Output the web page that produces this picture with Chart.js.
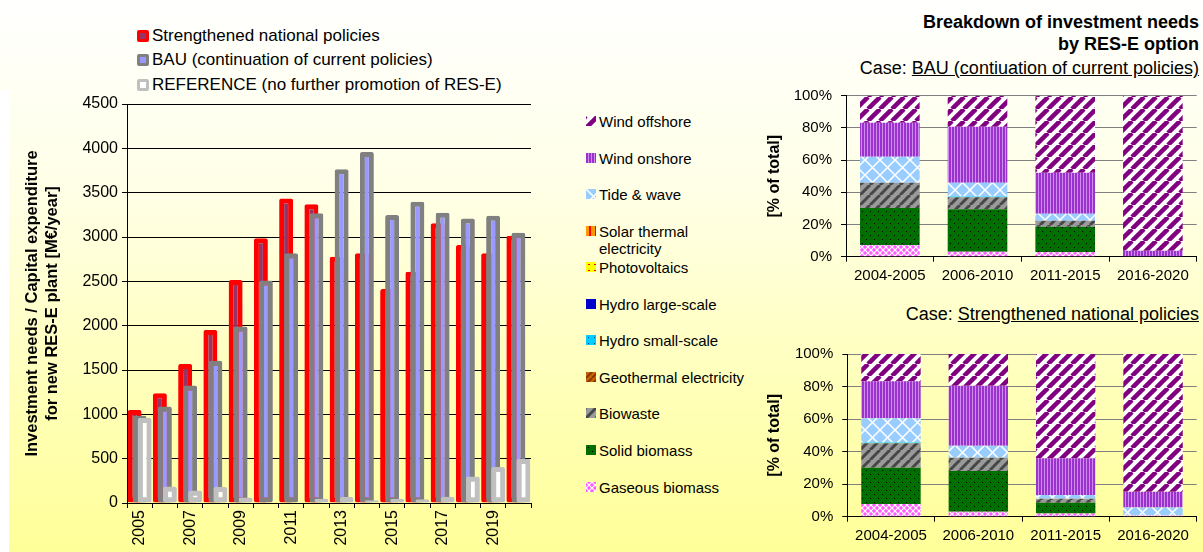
<!DOCTYPE html>
<html>
<head>
<meta charset="utf-8">
<script src="https://cdn.jsdelivr.net/npm/chart.js@4.4.1/dist/chart.umd.min.js"></script>
<style>
  html, body { margin: 0; padding: 0; }
  body {
    width: 1203px; height: 552px; position: relative; overflow: hidden;
    font-family: 'Liberation Sans', Arial, sans-serif; color: #000;
    background: linear-gradient(to bottom, #ffffff 0%, #ffffe6 35%, #ffffb4 75%, #ffff99 100%);
  }
  .abs { position: absolute; }
  .strip { left: 0; top: 90px; width: 9px; height: 462px; background: #fff; }
  .lg1 { left: 137px; font-size: 17px; line-height: 20px; white-space: nowrap; }
  .lg1 i { display: inline-block; width: 6px; height: 6px; border: 3px solid; border-radius: 2px;
           vertical-align: -1px; margin-right: 3px; }
  .lg2 { left: 586px; font-size: 15px; line-height: 17px; }
  .lg2 canvas { position: absolute; left: 0; top: 3px; }
  .lg2 span { position: absolute; left: 13px; top: 0; white-space: nowrap; }
  .ttl { right: 4px; font-size: 18px; line-height: 22px; text-align: right; white-space: nowrap; }
  .b { font-weight: bold; }
</style>
</head>
<body>
<div class="abs strip"></div>
<div id="legendLeft"></div>
<div id="legendMid"></div>
<div class="abs ttl b" style="top:11px">Breakdown of investment needs</div>
<div class="abs ttl b" style="top:33px">by RES-E option</div>
<div class="abs ttl" style="top:57px">Case: <u>BAU (contiuation of current policies)</u></div>
<div class="abs ttl" style="top:303px">Case: <u>Strengthened national policies</u></div>
<canvas id="total" class="abs" width="545" height="457" style="left:0;top:95px"></canvas>
<canvas id="bauShare" class="abs" width="443" height="205" style="left:760px;top:85px"></canvas>
<canvas id="snpShare" class="abs" width="443" height="212" style="left:760px;top:340px"></canvas>
<script>
// ---- data: investment needs [M€/year]
const years = ['2005', '2006', '2007', '2008', '2009', '2010', '2011', '2012',
  '2013', '2014', '2015', '2016', '2017', '2018', '2019', '2020'];
const strengthened = [1050, 1238, 1569, 1952, 2515, 2985, 3435, 3368, 2778, 2816, 2413, 2609, 3155, 2910, 2816, 3015];
const bau = [983, 1088, 1325, 1603, 1990, 2508, 2817, 3267, 3765, 3960, 3247, 3397, 3273, 3210, 3240, 3049];
const reference = [960, 187, 142, 180, 63, 0, 0, 48, 68, 30, 48, 42, 70, 300, 405, 495];
const totalTicks = [0, 500, 1000, 1500, 2000, 2500, 3000, 3500, 4000, 4500];

// ---- data: breakdown by RES-E option [% of total]
const periods = ['2004-2005', '2006-2010', '2011-2015', '2016-2020'];
const options = ['Gaseous biomass', 'Solid biomass', 'Biowaste', 'Geothermal electricity',
  'Hydro small-scale', 'Hydro large-scale', 'Photovoltaics', 'Solar thermal electricity',
  'Tide & wave', 'Wind onshore', 'Wind offshore'];
const bauGaseous = [7.2, 3.1, 2.7, 0];
const bauSolid = [23.0, 26.3, 15.9, 0];
const bauBiowaste = [15.8, 7.5, 3.8, 0];
const bauGeothermal = [0, 0, 0, 0];
const bauHydroSmall = [0, 0.5, 0, 0];
const bauHydroLarge = [0, 0, 0, 0];
const bauPv = [0, 0, 0, 0];
const bauSolarThermal = [0, 0, 0, 0];
const bauTide = [16.1, 8.6, 4.3, 0];
const bauOnshore = [21.1, 34.7, 25.5, 3.7];
const bauOffshore = [16.8, 19.3, 47.8, 96.3];
const snpGaseous = [7.8, 3.1, 2.0, 0.8];
const snpSolid = [22.3, 25.0, 6.6, 0];
const snpBiowaste = [15.0, 8.2, 2.5, 0];
const snpGeothermal = [0, 0, 0, 0];
const snpHydroSmall = [0.5, 0, 0, 0];
const snpHydroLarge = [0, 0, 0, 0];
const snpPv = [0, 0, 0, 0];
const snpSolarThermal = [0, 0, 0, 0];
const snpTide = [14.9, 7.3, 2.2, 4.9];
const snpOnshore = [22.7, 36.9, 22.6, 9.7];
const snpOffshore = [16.8, 19.5, 64.1, 84.6];
const shareTicks = [0, 20, 40, 60, 80, 100];

const bauShares = [bauGaseous, bauSolid, bauBiowaste, bauGeothermal, bauHydroSmall, bauHydroLarge,
  bauPv, bauSolarThermal, bauTide, bauOnshore, bauOffshore];
const snpShares = [snpGaseous, snpSolid, snpBiowaste, snpGeothermal, snpHydroSmall, snpHydroLarge,
  snpPv, snpSolarThermal, snpTide, snpOnshore, snpOffshore];

Chart.defaults.font.family = "'Liberation Sans', Arial, sans-serif";
Chart.defaults.color = '#000';

// ---- fill patterns
function tile(size, draw) {
  const c = document.createElement('canvas');
  c.width = size;
  c.height = size;
  draw(c.getContext('2d'), size);
  return c;
}

function diag(bg, fg, size, w) {
  return tile(size, (g, s) => {
    g.fillStyle = bg;
    g.fillRect(0, 0, s, s);
    g.strokeStyle = fg;
    g.lineWidth = w;
    for (const o of [-s, 0, s]) {
      g.beginPath();
      g.moveTo(o, s);
      g.lineTo(o + s, 0);
      g.stroke();
    }
  });
}

function lattice(bg, fg, size, w) {
  return tile(size, (g, s) => {
    g.fillStyle = bg;
    g.fillRect(0, 0, s, s);
    g.strokeStyle = fg;
    g.lineWidth = w;
    g.beginPath();
    g.moveTo(0, 0); g.lineTo(s, s);
    g.moveTo(s, 0); g.lineTo(0, s);
    g.stroke();
  });
}

function dots(bg, fg, size, pts) {
  return tile(size, (g, s) => {
    g.fillStyle = bg;
    g.fillRect(0, 0, s, s);
    g.fillStyle = fg;
    pts.forEach(p => g.fillRect(p[0], p[1], 1, 1));
  });
}

const tiles = [
  lattice('#ff5cff', '#ffffff', 6, 1.2),               // gaseous biomass
  dots('#006e00', '#000000', 8, [[2, 2], [6, 6]]),      // solid biomass
  diag('#9a9a9a', '#474747', 10, 3),                    // biowaste
  diag('#cc6600', '#883300', 6, 2),                     // geothermal
  dots('#00ccff', '#004080', 6, [[2, 2]]),              // hydro small
  dots('#0000cc', '#000066', 4, [[1, 1]]),              // hydro large
  dots('#ffff00', '#ff0000', 6, [[2, 2], [3, 2]]),      // photovoltaics
  tile(6, (g, s) => { g.fillStyle = '#ff9900'; g.fillRect(0, 0, s, s); g.fillStyle = '#ff0000'; g.fillRect(3, 0, 2, s); }),
  lattice('#99ccff', '#ffffff', 15, 1.5),               // tide & wave
  tile(3, (g, s) => { g.fillStyle = '#9933cc'; g.fillRect(0, 0, s, s); g.fillStyle = '#d08af0'; g.fillRect(2, 0, 1, s); }),
  diag('#ffffff', '#800080', 12, 4.5)                   // wind offshore
];
const helper = document.createElement('canvas').getContext('2d');
const patterns = tiles.map(t => helper.createPattern(t, 'repeat'));

// ---- legends
const leftSeries = [
  { label: 'Strengthened national policies', data: strengthened, border: '#ff0000', fill: '#993366' },
  { label: 'BAU (continuation of current policies)', data: bau, border: '#808080', fill: '#9999ff' },
  { label: 'REFERENCE (no further promotion of RES-E)', data: reference, border: '#c0c0c0', fill: '#ffffff' }
];
const legendRows = [25.5, 49.5, 74.5];
leftSeries.forEach((s, i) => {
  const d = document.createElement('div');
  d.className = 'abs lg1';
  d.style.top = legendRows[i] + 'px';
  d.innerHTML = '<i style="border-color:' + s.border + ';background:' + s.fill + '"></i>';
  d.appendChild(document.createTextNode(s.label));
  document.getElementById('legendLeft').appendChild(d);
});

const midRows = [121, 158, 194, 231, 267, 304, 340, 377, 413, 450, 487];
const midLabels = options.slice().reverse();
midLabels.forEach((name, i) => {
  const idx = options.indexOf(name);
  const d = document.createElement('div');
  d.className = 'abs lg2';
  d.style.top = (midRows[i] - 8.5) + 'px';
  const sw = document.createElement('canvas');
  sw.width = 10;
  sw.height = 10;
  const g = sw.getContext('2d');
  g.fillStyle = g.createPattern(tiles[idx], 'repeat');
  g.fillRect(0, 0, 10, 10);
  d.appendChild(sw);
  const t = document.createElement('span');
  t.innerHTML = name === 'Solar thermal electricity' ? 'Solar thermal<br>electricity' : name.replace('&', '&amp;');
  d.appendChild(t);
  document.getElementById('legendMid').appendChild(d);
});

// first dataset drawn first, so later series overlap earlier ones (as in Excel)
const drawInOrder = {
  id: 'drawInOrder',
  beforeDatasetsDraw(chart) {
    chart.getSortedVisibleDatasetMetas().forEach(m => m.controller.draw());
    return false;
  }
};

// keep the plot area where layout.padding puts it
function noOverflow(scale) {
  scale.paddingTop = 0;
  scale.paddingBottom = 0;
  scale.paddingLeft = 0;
  scale.paddingRight = 0;
}

// ---- left chart: total investment needs
new Chart(document.getElementById('total'), {
  type: 'bar',
  data: {
    labels: years,
    datasets: leftSeries.map(s => ({
      label: s.label,
      data: s.data,
      backgroundColor: s.fill,
      borderColor: s.border,
      borderWidth: 5,
      borderRadius: 2,
      borderSkipped: false,
      categoryPercentage: 0.593,
      barPercentage: 2.8
    }))
  },
  plugins: [drawInOrder],
  options: {
    responsive: false,
    animation: false,
    layout: { padding: { left: 0, right: 14, top: 9, bottom: 0 } },
    plugins: { legend: { display: false }, tooltip: { enabled: false } },
    scales: {
      x: {
        grid: { drawOnChartArea: false, tickLength: 5, color: '#000' },
        border: { color: '#000' },
        ticks: {
          autoSkip: false,
          minRotation: 90,
          maxRotation: 90,
          padding: 2,
          font: { size: 16 },
          callback(v, i) {
            return i % 2 === 0 ? this.getLabelForValue(v) : '';
          }
        },
        afterFit(scale) { scale.height = 49; noOverflow(scale); }
      },
      y: {
        min: 0,
        max: 4500,
        afterBuildTicks(scale) { scale.ticks = totalTicks.map(v => ({ value: v })); },
        grid: { color: '#000', tickLength: 5 },
        border: { color: '#000' },
        ticks: { padding: 4, font: { size: 16 }, callback: v => String(v) },
        title: {
          display: true,
          text: ['Investment needs / Capital expenditure', 'for new RES-E plant [M€/year]'],
          font: { size: 16.5, weight: 'bold', lineHeight: 1.2 },
          padding: { top: 23, bottom: 0 }
        },
        afterFit(scale) { scale.width = 127; noOverflow(scale); }
      }
    }
  }
});

// ---- right charts: breakdown by option
function shareChart(id, shares, pad, yWidth, xHeight) {
  return new Chart(document.getElementById(id), {
    type: 'bar',
    data: {
      labels: periods,
      datasets: options.map((name, i) => ({
        label: name,
        data: shares[i],
        backgroundColor: patterns[i],
        borderWidth: 0,
        categoryPercentage: 1,
        barPercentage: 0.68
      }))
    },
    options: {
      responsive: false,
      animation: false,
      layout: { padding: pad },
      plugins: { legend: { display: false }, tooltip: { enabled: false } },
      scales: {
        x: {
          stacked: true,
          grid: { drawOnChartArea: false, tickLength: 5, color: '#000' },
          border: { color: '#000' },
          ticks: { maxRotation: 0, padding: 5, font: { size: 15 } },
          afterFit(scale) { scale.height = xHeight; noOverflow(scale); }
        },
        y: {
          stacked: true,
          min: 0,
          max: 100,
          afterBuildTicks(scale) { scale.ticks = shareTicks.map(v => ({ value: v })); },
          grid: { color: '#808080', tickColor: '#000', tickLength: 5 },
          border: { color: '#000' },
          ticks: { padding: 9, font: { size: 15 }, callback: v => v + '%' },
          title: {
            display: true,
            text: '[% of total]',
            font: { size: 16, weight: 'bold', lineHeight: 1.2 },
            padding: { top: 4.5, bottom: 0 }
          },
          afterFit(scale) { scale.width = yWidth; noOverflow(scale); }
        }
      }
    }
  });
}

shareChart('bauShare', bauShares, { left: 0, right: 6.3, top: 10.7, bottom: 0 }, 86, 33.3);
shareChart('snpShare', snpShares, { left: 0, right: 6.3, top: 14, bottom: 0 }, 87.3, 35.3);
</script>
</body>
</html>
